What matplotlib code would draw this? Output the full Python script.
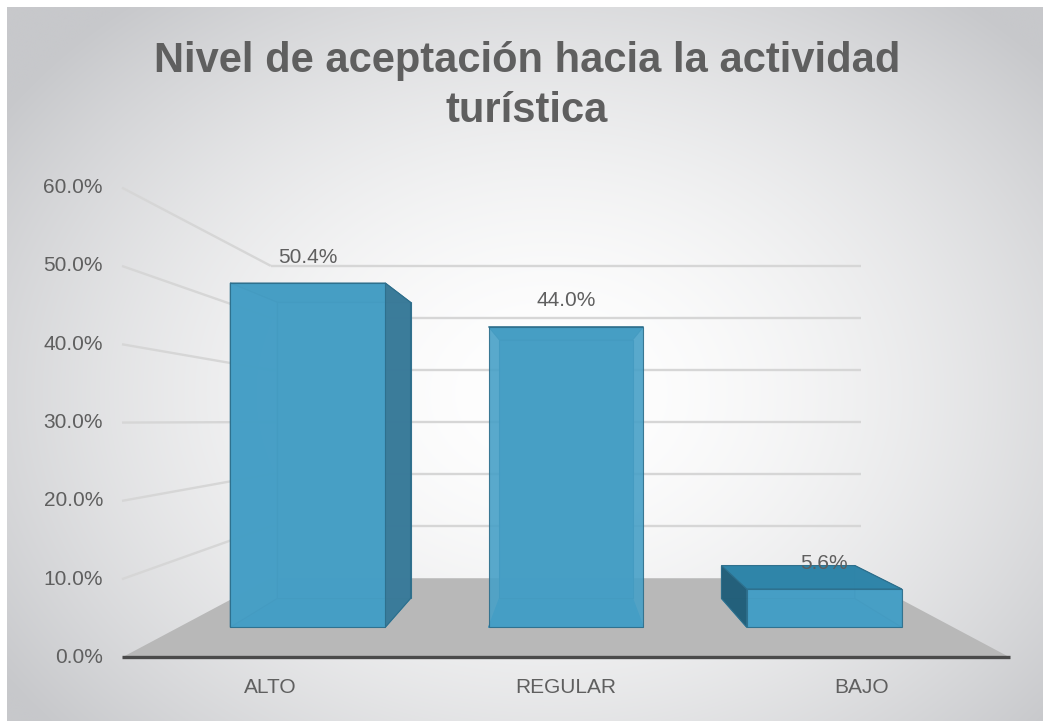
import numpy as np
import matplotlib.pyplot as plt
from matplotlib.patches import Polygon
from matplotlib import font_manager

# data
categories = ['ALTO', 'REGULAR', 'BAJO']
values = [50.4, 44.0, 5.6]
value_labels = ['50.4%', '44.0%', '5.6%']
y_ticks = [0, 10, 20, 30, 40, 50, 60]
y_tick_labels = ['0.0%', '10.0%', '20.0%', '30.0%', '40.0%', '50.0%', '60.0%']
title = 'Nivel de aceptación hacia la actividad\nturística'

# canvas in pixels
W, H = 1043, 721

# simple perspective camera, like Excel's 3-D column chart
VPX, VPY = 566, 421      # vanishing point on screen
EYE_Y = 30.2             # eye level in value units
PX_PCT = 7.83            # pixels per value unit at the front plane
PX_CAT = 296             # pixels per category at the front plane
DEPTH_K = 0.504          # how fast things shrink going back
BAR_W = 0.6
BAR_Z0, BAR_Z1 = 0.29, 0.66

installed = {f.name for f in font_manager.fontManager.ttflist}
FONT = 'Liberation Sans' if 'Liberation Sans' in installed else 'DejaVu Sans'
TXT = '#5f5f5f'


def proj(x, y, z):
    r = 1.0 / (1.0 + DEPTH_K * z)
    return VPX + x * PX_CAT * r, VPY - (y - EYE_Y) * PX_PCT * r


fig = plt.figure(figsize=(W / 100, H / 100), dpi=100, facecolor='white')
ax = fig.add_axes([0, 0, 1, 1])
ax.set_xlim(0, W)
ax.set_ylim(H, 0)
ax.axis('off')

# radial grey background
gx, gy = np.meshgrid(np.arange(W), np.arange(H))
t = np.sqrt(((gx - 545) / 700.0) ** 2 + ((gy - 390) / 540.0) ** 2)
t = np.clip(t / 0.95, 0, 1) ** 1.7
bg = np.empty((H, W, 3))
bg[..., 0] = 1 - t * (1 - 199 / 255)
bg[..., 1] = 1 - t * (1 - 200 / 255)
bg[..., 2] = 1 - t * (1 - 203 / 255)
ax.imshow(bg, extent=(7, W, H, 7), zorder=0, aspect='auto')

n = len(categories)
xs = np.arange(n) - (n - 1) / 2
xl, xr = xs[0] - 0.5, xs[-1] + 0.5

# walls: gridlines on back and left wall
for tk in y_ticks[1:]:
    (a, b), (c, d) = proj(xl, tk, 1), proj(xr, tk, 1)
    ax.plot([a, c], [b, d], color='#d6d6d6', lw=1.7, zorder=1, solid_capstyle='butt')
    (a, b), (c, d) = proj(xl, tk, 0), proj(xl, tk, 1)
    ax.plot([a, c], [b, d], color='#d6d6d6', lw=1.7, zorder=1, solid_capstyle='butt')

# floor
floor = [proj(xl, 0, 0), proj(xr, 0, 0), proj(xr, 0, 1), proj(xl, 0, 1)]
ax.add_patch(Polygon(floor, closed=True, facecolor='#b8b8b8', edgecolor='none', zorder=2))
(a, b), (c, d) = proj(xl, 0, 0), proj(xr, 0, 0)
ax.plot([a, c], [b, d], color='#4a4a4a', lw=2.4, zorder=3, solid_capstyle='butt')

# bars as see-through boxes
FRONT = '#47a0c7'
BACK = '#3f94ba'
BOTTOM = '#3a8fb6'
RSIDE = '#3b7b99'
LSIDE = '#235f79'
TOP = '#2f85a9'
EDGE = '#2d6e8b'

for xc, v, lab in zip(xs, values, value_labels):
    x0, x1 = xc - BAR_W / 2, xc + BAR_W / 2

    def face(pts, col, z, a=0.9, ec=EDGE):
        ax.add_patch(Polygon([proj(*p) for p in pts], closed=True, facecolor=col,
                             edgecolor=ec, lw=0.8, alpha=a, zorder=z))

    back = [(x0, 0, BAR_Z1), (x1, 0, BAR_Z1), (x1, v, BAR_Z1), (x0, v, BAR_Z1)]
    front = [(x0, 0, BAR_Z0), (x1, 0, BAR_Z0), (x1, v, BAR_Z0), (x0, v, BAR_Z0)]
    left = [(x0, 0, BAR_Z0), (x0, 0, BAR_Z1), (x0, v, BAR_Z1), (x0, v, BAR_Z0)]
    right = [(x1, 0, BAR_Z0), (x1, 0, BAR_Z1), (x1, v, BAR_Z1), (x1, v, BAR_Z0)]
    top = [(x0, v, BAR_Z0), (x1, v, BAR_Z0), (x1, v, BAR_Z1), (x0, v, BAR_Z1)]
    bottom = [(x0, 0, BAR_Z0), (x1, 0, BAR_Z0), (x1, 0, BAR_Z1), (x0, 0, BAR_Z1)]

    face(bottom, BOTTOM, 4, 1.0, ec=BOTTOM)
    face(back, BACK, 4, 0.95)
    if v > EYE_Y:
        face(top, TOP, 4)
    if x1 < 0:
        face(left, BACK, 4)
        face(right, RSIDE, 5, 0.97)
    elif x0 > 0:
        face(right, BACK, 4)
        face(left, LSIDE, 5, 0.97)
    if v <= EYE_Y:
        face(top, TOP, 5, 0.97)
    face(front, FRONT, 6, 0.9)

    lx, ly = proj(xc, v, BAR_Z0)
    ax.text(lx, ly - 26, lab, ha='center', va='center', fontsize=15,
            color=TXT, family=FONT, zorder=8)

# value axis labels on the front edge of the left wall
for tk, tl in zip(y_ticks, y_tick_labels):
    px, py = proj(xl, tk, 0)
    ax.text(px - 19, py, tl, ha='right', va='center', fontsize=15,
            color=TXT, family=FONT, zorder=8)

# category labels
for xc, cat in zip(xs, categories):
    px, py = proj(xc, 0, 0)
    ax.text(px, py + 30, cat, ha='center', va='center', fontsize=15,
            color=TXT, family=FONT, zorder=8)

ax.text(527, 86, title, ha='center', va='center', fontsize=30, fontweight='bold',
        color=TXT, family=FONT, linespacing=1.3, zorder=8)

fig.savefig('out.png', dpi=100, facecolor='white')
